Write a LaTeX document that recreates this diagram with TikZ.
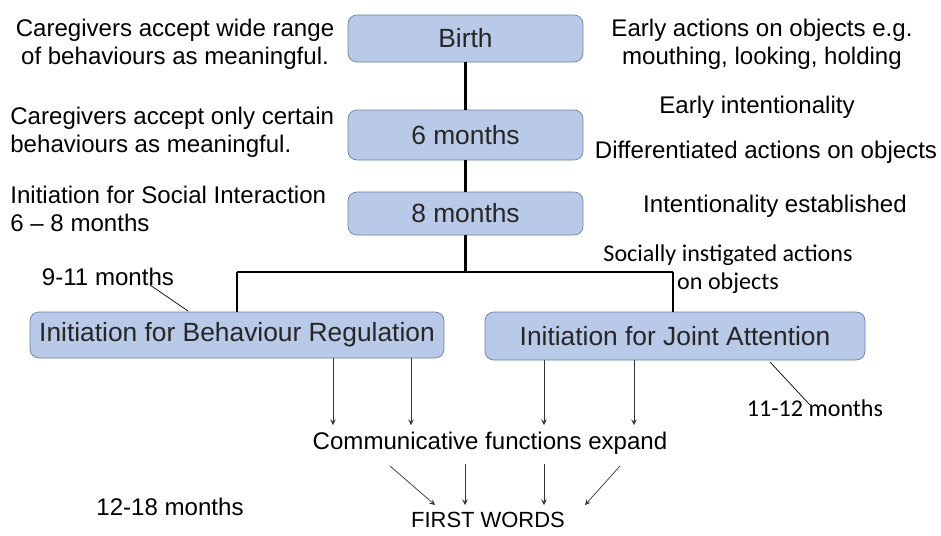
\documentclass[tikz,border=0pt]{standalone}
\usepackage{fontspec}
\setmainfont{Liberation Sans}
\newfontfamily\carlito{Carlito}
\usepackage{xcolor}
\definecolor{boxfill}{HTML}{B9C9E8}
\definecolor{boxline}{HTML}{6F7F9F}

\tikzset{
  stage/.style={draw=boxline, fill=boxfill, rounded corners=5pt, inner sep=0pt, text=black!85, font=\fontsize{15}{17}\selectfont},
  note/.style={align=center, inner sep=0pt, font=\fontsize{13.7}{15.9}\selectfont},
  cnote/.style={align=center, inner sep=0pt, font=\carlito\fontsize{13.7}{15.9}\selectfont},
  link/.style={line width=1.2pt},
  arr/.style={-stealth, thin, draw=black!80},
}

\begin{document}
\begin{tikzpicture}[x=0.02cm, y=-0.02cm]
\useasboundingbox (0,0) rectangle (941,535);
% stages
\node[stage, minimum width=4.7cm, minimum height=0.94cm] (birth) at (465.5,38.5) {Birth};
\node[stage, minimum width=4.7cm, minimum height=1cm] (m6) at (465.5,135) {6 months};
\node[stage, minimum width=4.7cm, minimum height=0.86cm] (m8) at (465.5,213.5) {8 months};
\node[stage, minimum width=8.28cm, minimum height=0.92cm] (breg) at (237,335) {Initiation for Behaviour Regulation};
\node[stage, minimum width=7.6cm, minimum height=0.96cm] (joint) at (675,336) {Initiation for Joint Attention};
\coordinate (split) at (465.5,272);
\draw[link] (birth)--(m6);
\draw[link] (m6)--(m8);
\draw[link] (m8)--(split);
\draw[link] (237,272)--(673,272);
\draw[link] (237,272)--(breg.north -| 237,0);
\draw[link] (673,272)--(joint.north -| 673,0);
% left notes
\node[note] (wide) at (175,44) {Caregivers accept wide range\\of behaviours as meaningful.};
\node[note, align=left, anchor=west] (certain) at (10,132) {Caregivers accept only certain\\behaviours as meaningful.};
\node[note, align=left, anchor=west] (social) at (10,209) {Initiation for Social Interaction\\6 -- 8 months};
\node[note] (m911) at (108,277) {9-11 months};
\node[note] (m1218) at (170,507) {12-18 months};
% right notes
\node[note] (early) at (762,44) {Early actions on objects e.g.\\mouthing, looking, holding};
\node[note] (intent) at (757,107) {Early intentionality};
\node[note] (diff) at (766,152) {Differentiated actions on objects};
\node[note] (estab) at (775,206) {Intentionality established};
\node[cnote] (instig) at (728,269) {Socially instigated actions\\on objects};
\node[cnote] (m1112) at (815,408) {11-12 months};
% callout lines
\draw[thin] (150,285)--(188,311);
\draw[thin] (770,362)--(810,405);
% functions and first words
\node[note] (comm) at (490,443) {Communicative functions expand};
\node[note, font=\fontsize{12.5}{14}\selectfont] (first) at (488,520) {FIRST WORDS};
\foreach \x in {333,411}{
\draw[arr] (breg.south -| \x,0)--(\x,425);
}
\foreach \x in {544,634}{
\draw[arr] (joint.south -| \x,0)--(\x,425);
}
\draw[arr] (390,466)--(435,505);
\draw[arr] (465,464)--(465,505);
\draw[arr] (544,464)--(544,505);
\draw[arr] (620,466)--(585,505);
\end{tikzpicture}
\end{document}
